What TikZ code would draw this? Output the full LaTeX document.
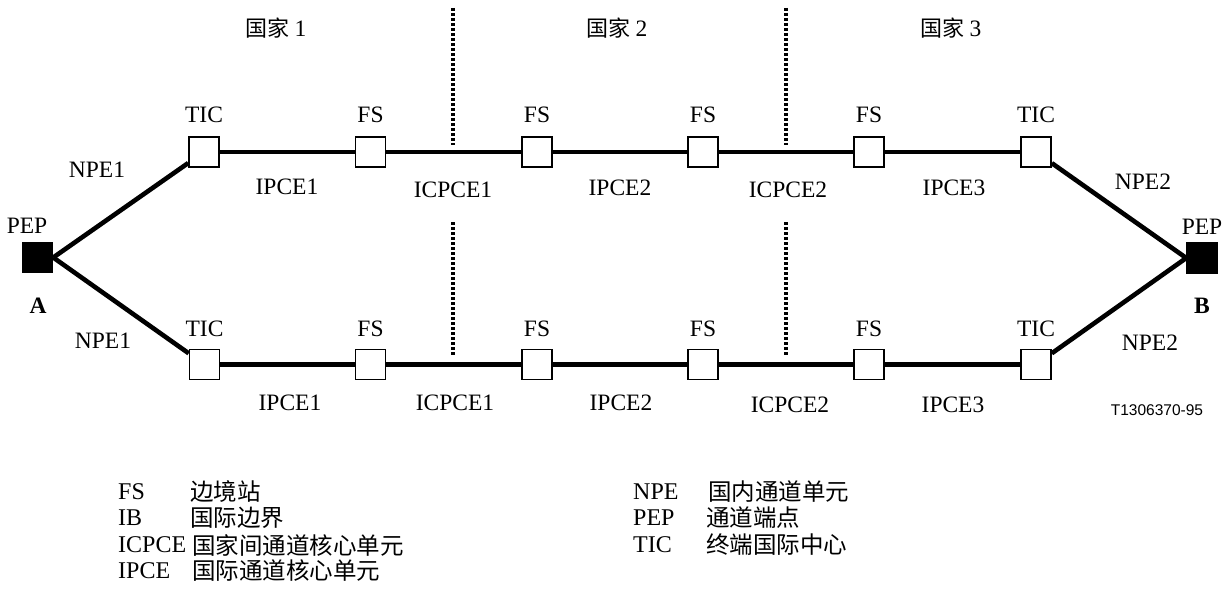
\documentclass[tikz,border=0pt]{standalone}
\usepackage{fontspec}
\setmainfont{Liberation Serif}
\newfontfamily\cjk{Noto Sans CJK SC}
\newfontfamily\arialf{Liberation Sans}
\begin{document}
\begin{tikzpicture}[x=1pt,y=-1pt,
  sq/.style={draw,line width=1.6pt,fill=white,minimum size=30pt,inner sep=0pt},
  blk/.style={draw,line width=1.5pt,fill=black,minimum size=30pt,inner sep=0pt},
  link/.style={line width=4.6pt},
  dotline/.style={line width=3.2pt,dash pattern=on 2.6pt off 2.4pt},
  lbl/.style={font=\fontsize{23.5}{27}\selectfont,inner sep=0pt},
  zh/.style={font=\fontsize{22}{26}\selectfont\cjk,inner sep=0pt},
  leg/.style={font=\fontsize{24}{28}\selectfont,inner sep=0pt,anchor=west},
  legz/.style={font=\fontsize{23.5}{27}\selectfont\cjk,inner sep=0pt,anchor=west}]
\useasboundingbox (0,0) rectangle (1228,596);
% dotted borders
\coordinate (d1a) at (453,8);   \coordinate (d1b) at (453,145);
\coordinate (d1c) at (453,222); \coordinate (d1d) at (453,356);
\coordinate (d2a) at (786,8);   \coordinate (d2b) at (786,145);
\coordinate (d2c) at (786,222); \coordinate (d2d) at (786,356);
\draw[dotline] (d1a) -- (d1b);
\draw[dotline] (d1c) -- (d1d);
\draw[dotline] (d2a) -- (d2b);
\draw[dotline] (d2c) -- (d2d);
% end points
\node[blk] (A) at (37.5,257.5) {};
\node[blk] (B) at (1202,258) {};
% links (drawn before the boxes so boxes sit on top)
\coordinate (t1c) at (204,152);   \coordinate (b1c) at (204.5,364.5);
\coordinate (t6c) at (1036,152);  \coordinate (b6c) at (1036,364.5);
% top row
\node[sq] (t1) at (204,152) {};
\node[sq] (t2) at (370.5,152) {};
\node[sq] (t3) at (537,152) {};
\node[sq] (t4) at (703,152) {};
\node[sq] (t5) at (869,152) {};
\node[sq] (t6) at (1036,152) {};
% bottom row
\node[sq] (b1) at (204.5,364.5) {};
\node[sq] (b2) at (370.5,364.5) {};
\node[sq] (b3) at (537,364.5) {};
\node[sq] (b4) at (703,364.5) {};
\node[sq] (b5) at (869,364.5) {};
\node[sq] (b6) at (1036,364.5) {};
\draw[link] (A.east) -- (t1);
\draw[link] (t1) -- (t2);
\draw[link] (t2) -- (t3);
\draw[link] (t3) -- (t4);
\draw[link] (t4) -- (t5);
\draw[link] (t5) -- (t6);
\draw[link] (t6) -- (B.west);
\draw[link] (A.east) -- (b1);
\draw[link] (b1) -- (b2);
\draw[link] (b2) -- (b3);
\draw[link] (b3) -- (b4);
\draw[link] (b4) -- (b5);
\draw[link] (b5) -- (b6);
\draw[link] (b6) -- (B.west);
% country labels
\node[zh] (c1) at (276,28) {国家 \fontspec{Liberation Serif}\fontsize{23.5}{27}\selectfont 1};
\node[zh] (c2) at (617,28) {国家 \fontspec{Liberation Serif}\fontsize{23.5}{27}\selectfont 2};
\node[zh] (c3) at (951,28) {国家 \fontspec{Liberation Serif}\fontsize{23.5}{27}\selectfont 3};
% node labels top
\node[lbl] (lt1) at (204,115) {TIC};
\node[lbl] (lt2) at (370.5,115) {FS};
\node[lbl] (lt3) at (537,115) {FS};
\node[lbl] (lt4) at (703,115) {FS};
\node[lbl] (lt5) at (869,115) {FS};
\node[lbl] (lt6) at (1036,115) {TIC};
% node labels bottom
\node[lbl] (lb1) at (204.5,329) {TIC};
\node[lbl] (lb2) at (370.5,329) {FS};
\node[lbl] (lb3) at (537,329) {FS};
\node[lbl] (lb4) at (703,329) {FS};
\node[lbl] (lb5) at (869,329) {FS};
\node[lbl] (lb6) at (1036,329) {TIC};
% end labels
\node[lbl] (pa) at (27,226) {PEP};
\node[lbl,font=\fontsize{23.5}{27}\selectfont\bfseries] (la) at (38,306) {A};
\node[lbl] (pb) at (1202,227) {PEP};
\node[lbl,font=\fontsize{23.5}{27}\selectfont\bfseries] (lbB) at (1202,306) {B};
\node[lbl] (n1t) at (97,170) {NPE1};
\node[lbl] (n1b) at (103,341) {NPE1};
\node[lbl] (n2t) at (1143,182) {NPE2};
\node[lbl] (n2b) at (1150,343) {NPE2};
% segment labels top
\node[lbl] (s1) at (287,187) {IPCE1};
\node[lbl] (s2) at (453,190) {ICPCE1};
\node[lbl] (s3) at (620,188) {IPCE2};
\node[lbl] (s4) at (788,190) {ICPCE2};
\node[lbl] (s5) at (954,188) {IPCE3};
% segment labels bottom
\node[lbl] (u1) at (290,403) {IPCE1};
\node[lbl] (u2) at (455,403) {ICPCE1};
\node[lbl] (u3) at (621,403) {IPCE2};
\node[lbl] (u4) at (790,405) {ICPCE2};
\node[lbl] (u5) at (953,405) {IPCE3};
\node[inner sep=0pt,font=\fontsize{15.5}{18}\selectfont\arialf] (id) at (1157,410) {T1306370-95};
% legend
\node[leg] (k1) at (118,492) {FS};
\node[legz] (v1) at (190,492) {边境站};
\node[leg] (k2) at (118,518) {IB};
\node[legz] (v2) at (190,518) {国际边界};
\node[leg] (k3) at (118,545) {ICPCE};
\node[legz] (v3) at (192,545) {国家间通道核心单元};
\node[leg] (k4) at (118,571) {IPCE};
\node[legz] (v4) at (192,571) {国际通道核心单元};
\node[leg] (k5) at (633,492) {NPE};
\node[legz] (v5) at (708,492) {国内通道单元};
\node[leg] (k6) at (633,518) {PEP};
\node[legz] (v6) at (706,518) {通道端点};
\node[leg] (k7) at (633,545) {TIC};
\node[legz] (v7) at (706,545) {终端国际中心};
\end{tikzpicture}
\end{document}
